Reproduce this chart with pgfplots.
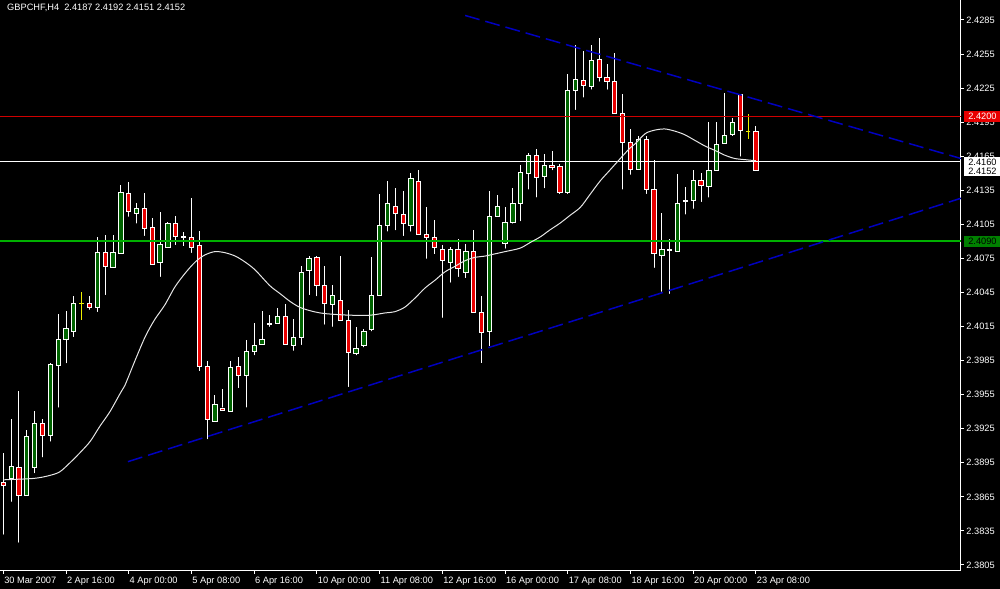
\documentclass[border=0pt]{standalone}
\usepackage{fontspec}
\setmainfont{Liberation Sans}
\usepackage{pgfplots}
\usepackage{pgfplotstable}
\pgfplotsset{compat=1.18}

\pgfplotstableread{
i O H L C
0 2.3878 2.3904 2.3827 2.3875
1 2.3881 2.3934 2.3856 2.3892
2 2.3891 2.3958 2.3820 2.3866
3 2.3866 2.3924 2.3865 2.3918
4 2.3891 2.3941 2.3881 2.3930
5 2.3930 2.3934 2.3895 2.3919
6 2.3919 2.3983 2.3909 2.3982
7 2.3981 2.4026 2.3939 2.4004
8 2.4004 2.4029 2.3978 2.4013
9 2.4011 2.4042 2.4001 2.4035
10 2.4035 2.4045 2.4021 2.4035
11 2.4035 2.4042 2.4025 2.4032
12 2.4032 2.4094 2.4023 2.4080
13 2.4080 2.4096 2.4038 2.4068
14 2.4067 2.4096 2.4063 2.4080
15 2.4079 2.4140 2.4075 2.4133
16 2.4132 2.4142 2.4107 2.4116
17 2.4115 2.4124 2.4101 2.4119
18 2.4119 2.4133 2.4090 2.4101
19 2.4102 2.4111 2.4065 2.4070
20 2.4071 2.4116 2.4054 2.4087
21 2.4085 2.4107 2.4081 2.4106
22 2.4106 2.4112 2.4082 2.4094
23 2.4094 2.4098 2.4081 2.4093
24 2.4093 2.4128 2.4075 2.4085
25 2.4086 2.4099 2.3971 2.3980
26 2.3980 2.3985 2.3911 2.3933
27 2.3931 2.3955 2.3928 2.3946
28 2.3943 2.3960 2.3939 2.3941
29 2.3940 2.3985 2.3937 2.3979
30 2.3980 2.3988 2.3956 2.3972
31 2.3972 2.4003 2.3939 2.3993
32 2.3993 2.4018 2.3985 2.3998
33 2.3999 2.4029 2.3995 2.4004
34 2.4018 2.4025 2.4010 2.4017
35 2.4018 2.4031 2.4013 2.4024
36 2.4024 2.4035 2.3995 2.3999
37 2.3998 2.4022 2.3989 2.4005
38 2.4005 2.4068 2.3994 2.4063
39 2.4064 2.4077 2.4038 2.4075
40 2.4076 2.4077 2.4037 2.4051
41 2.4051 2.4068 2.4012 2.4035
42 2.4034 2.4052 2.4010 2.4042
43 2.4038 2.4077 2.4018 2.4020
44 2.4020 2.4030 2.3957 2.3992
45 2.3991 2.4015 2.3985 2.3996
46 2.3998 2.4013 2.3992 2.4011
47 2.4012 2.4076 2.4006 2.4042
48 2.4042 2.4132 2.4041 2.4104
49 2.4104 2.4143 2.4094 2.4123
50 2.4121 2.4137 2.4095 2.4115
51 2.4114 2.4134 2.4090 2.4106
52 2.4104 2.4150 2.4094 2.4145
53 2.4143 2.4153 2.4091 2.4096
54 2.4096 2.4120 2.4070 2.4093
55 2.4093 2.4109 2.4074 2.4085
56 2.4083 2.4087 2.4018 2.4073
57 2.4071 2.4085 2.4049 2.4083
58 2.4083 2.4092 2.4054 2.4066
59 2.4063 2.4088 2.4053 2.4081
60 2.4081 2.4100 2.4022 2.4027
61 2.4027 2.4042 2.3978 2.4010
62 2.4011 2.4134 2.3993 2.4112
63 2.4112 2.4131 2.4109 2.4121
64 2.4088 2.4120 2.4079 2.4107
65 2.4107 2.4137 2.4101 2.4123
66 2.4123 2.4157 2.4103 2.4151
67 2.4150 2.4168 2.4131 2.4166
68 2.4166 2.4171 2.4124 2.4146
69 2.4147 2.4167 2.4132 2.4157
70 2.4157 2.4170 2.4148 2.4155
71 2.4156 2.4158 2.4127 2.4133
72 2.4133 2.4237 2.4127 2.4223
73 2.4223 2.4263 2.4201 2.4233
74 2.4232 2.4258 2.4212 2.4227
75 2.4226 2.4263 2.4219 2.4249
76 2.4250 2.4269 2.4226 2.4234
77 2.4234 2.4246 2.4219 2.4231
78 2.4231 2.4256 2.4200 2.4203
79 2.4203 2.4220 2.4131 2.4177
80 2.4177 2.4189 2.4144 2.4153
81 2.4153 2.4183 2.4151 2.4180
82 2.4180 2.4183 2.4127 2.4136
83 2.4136 2.4162 2.4062 2.4079
84 2.4078 2.4115 2.4041 2.4083
85 2.4082 2.4092 2.4039 2.4083
86 2.4081 2.4149 2.4076 2.4123
87 2.4125 2.4138 2.4109 2.4126
88 2.4126 2.4153 2.4114 2.4144
89 2.4144 2.4150 2.4120 2.4139
90 2.4138 2.4195 2.4124 2.4152
91 2.4152 2.4195 2.4151 2.4175
92 2.4176 2.4221 2.4174 2.4183
93 2.4184 2.4199 2.4178 2.4195
94 2.4219 2.4220 2.4160 2.4188
95 2.4187 2.4202 2.4180 2.4187
96 2.4187 2.4192 2.4151 2.4152
}\candles

\pgfplotstableread{
i P H L
10 2.4035 2.4045 2.4021
95 2.4187 2.4202 2.4180
}\dojis

\definecolor{bull}{HTML}{006400}
\definecolor{bear}{HTML}{E80000}
\definecolor{tline}{HTML}{0000C0}
\definecolor{hred}{HTML}{D00000}
\definecolor{hgreen}{HTML}{00B000}
\definecolor{boxred}{HTML}{E80000}
\definecolor{boxgreen}{HTML}{008000}
\definecolor{mtyellow}{HTML}{F0F000}
\definecolor{magray}{HTML}{E6E6E6}

\newcommand\mt{\fontsize{3.7pt}{4.4pt}\selectfont}

\pgfplotsset{mtaxis/.style={at={(0pt,7.2pt)}, anchor=south west, scale only axis,
  width=384.4pt, height=228.4pt, xmin=-0.42, xmax=122.15, ymin=2.37997, ymax=2.43026}}

\begin{document}
\begin{tikzpicture}
\fill[black] (0pt,0pt) rectangle (400pt,235.6pt);

% wicks
\begin{axis}[mtaxis, hide axis]
\addplot[only marks, mark=none, error bars/.cd, y dir=plus, y explicit, error mark=none,
  error bar style={line width=0.4pt, draw=white}]
  table[x=i, y=L, y error plus expr=\thisrow{H}-\thisrow{L}] {\candles};
\end{axis}

% bodies
\begin{axis}[mtaxis, hide axis, ybar stacked, bar width=1.7pt]
\addplot[draw=none, fill=none] table[x=i, y expr={min(\thisrow{O},\thisrow{C})}] {\candles};
\addplot[draw=white, fill=bull, line width=0.4pt] table[x=i, y expr={max(\thisrow{C}-\thisrow{O},0)}] {\candles};
\addplot[draw=white, fill=bear, line width=0.4pt] table[x=i, y expr={max(\thisrow{O}-\thisrow{C},0)}] {\candles};
\end{axis}

% lines, indicator, axes
\begin{axis}[mtaxis, clip mode=individual,
  axis x line=bottom, axis y line=right, axis line style={white, -, line width=0.4pt},
  tick style={white, line width=0.4pt}, major tick length=1.2pt, tick align=outside,
  xtick={0,8,16,24,32,40,48,56,64,72,80,88,96},
  xticklabels={30 Mar 2007, 2 Apr 16:00, 4 Apr 00:00, 5 Apr 08:00, 6 Apr 16:00, 10 Apr 00:00, 11 Apr 08:00, 12 Apr 16:00, 16 Apr 00:00, 17 Apr 08:00, 18 Apr 16:00, 20 Apr 00:00, 23 Apr 08:00},
  xticklabel style={font=\mt, text=white, anchor=north west, inner sep=0pt, xshift=0.2pt, yshift=-1.2pt},
  ytick={2.3805,2.3835,2.3865,2.3895,2.3925,2.3955,2.3985,2.4015,2.4045,2.4075,2.4105,2.4135,2.4165,2.4195,2.4225,2.4255,2.4285},
  yticklabels={2.3805,2.3835,2.3865,2.3895,2.3925,2.3955,2.3985,2.4015,2.4045,2.4075,2.4105,2.4135,2.4165,2.4195,2.4225,2.4255,2.4285},
  yticklabel style={font=\mt, text=white, anchor=west, inner sep=0pt, xshift=0.8pt},
  scaled y ticks=false]
\addplot[only marks, mark=-, mark size=0.9pt, mtyellow, mark options={line width=0.4pt},
  error bars/.cd, y dir=both, y explicit, error mark=none,
  error bar style={line width=0.4pt, draw=mtyellow}]
  table[x=i, y=P, y error plus expr=\thisrow{H}-\thisrow{P}, y error minus expr=\thisrow{P}-\thisrow{L}] {\dojis};
\addplot[hred, line width=0.45pt] coordinates {(-0.42,2.4200) (122.15,2.4200)};
\addplot[white, line width=0.45pt] coordinates {(-0.42,2.4160) (122.15,2.4160)};
\addplot[hgreen, line width=0.75pt] coordinates {(-0.42,2.40900) (122.15,2.40900)};
\addplot[tline, line width=0.6pt, dash pattern=on 6pt off 2.4pt] coordinates {(58.9,2.4289) (122.15,2.4163)};
\addplot[tline, line width=0.6pt, dash pattern=on 6pt off 2.4pt] coordinates {(15.9,2.3896) (122.15,2.4128)};
\addplot[magray, line width=0.4pt, smooth] coordinates {
(0,2.3880) (3.4,2.3881) (4.7,2.3882) (6.0,2.3884) (7.2,2.3887) (8.5,2.3895) (9.8,2.3904)
(11.1,2.3914) (12.3,2.3927) (13.6,2.3940) (14.9,2.3956) (15.5,2.3963) (16.8,2.3985)
(18.1,2.4006) (19.3,2.4021) (20.6,2.4034) (21.9,2.4050) (23.2,2.4062) (24.5,2.4072)
(25.7,2.4078) (27.0,2.4081) (28.3,2.4080) (29.6,2.4077) (30.8,2.4072) (32.1,2.4065)
(34.0,2.4051) (35.3,2.4044) (36.6,2.4037) (37.8,2.4032) (39.1,2.4029) (40.4,2.4027)
(41.7,2.4026) (44.2,2.4025) (46.8,2.4025) (48.7,2.4027) (49.9,2.4028) (51.2,2.4032)
(52.5,2.4040) (53.8,2.4049) (55.1,2.4056) (56.3,2.4063) (57.6,2.4068) (58.9,2.4073)
(60.2,2.4076) (61.4,2.4077) (62.7,2.4079) (64.0,2.4081) (65.9,2.4084) (67.2,2.4089)
(68.5,2.4094) (69.7,2.4100) (71.0,2.4106) (72.3,2.4113) (73.6,2.4120) (74.8,2.4131)
(76.1,2.4143) (77.4,2.4153) (78.7,2.4163) (79.9,2.4172) (80.6,2.4176) (81.9,2.4185)
(83.1,2.4188) (84.4,2.4189) (85.7,2.4187) (86.9,2.4184) (88.2,2.4179) (89.5,2.4174)
(90.8,2.4170) (92.0,2.4166) (93.3,2.4163) (94.6,2.4162) (96.0,2.4161)};
\end{axis}

% price labels and title on top
\begin{axis}[mtaxis, hide axis, clip=false]
\node[anchor=north west, inner sep=0pt, font=\mt, text=white, xshift=2.7pt, yshift=-1.5pt]
  at (rel axis cs:0,1) {GBPCHF,H4\ \ 2.4187 2.4192 2.4151 2.4152};
\node[anchor=west, fill=boxred, text=white, font=\mt, inner sep=0pt, minimum width=14.4pt, minimum height=4.6pt, xshift=1.2pt]
  at (axis cs:122.15,2.4200) {2.4200};
\node[anchor=west, fill=white, text=black, font=\mt, inner sep=0pt, minimum width=14.4pt, minimum height=4.0pt, xshift=1.2pt]
  at (axis cs:122.15,2.4160) {2.4160};
\node[anchor=west, fill=white, text=black, font=\mt, inner sep=0pt, minimum width=14.4pt, minimum height=4.0pt, xshift=1.2pt]
  at (axis cs:122.15,2.4152) {2.4152};
\node[anchor=west, fill=boxgreen, text=black, font=\mt, inner sep=0pt, minimum width=14.4pt, minimum height=4.6pt, xshift=1.2pt]
  at (axis cs:122.15,2.4090) {2.4090};
\end{axis}

\pgfresetboundingbox
\useasboundingbox (0pt,0pt) rectangle (400pt,235.6pt);
\end{tikzpicture}
\end{document}
